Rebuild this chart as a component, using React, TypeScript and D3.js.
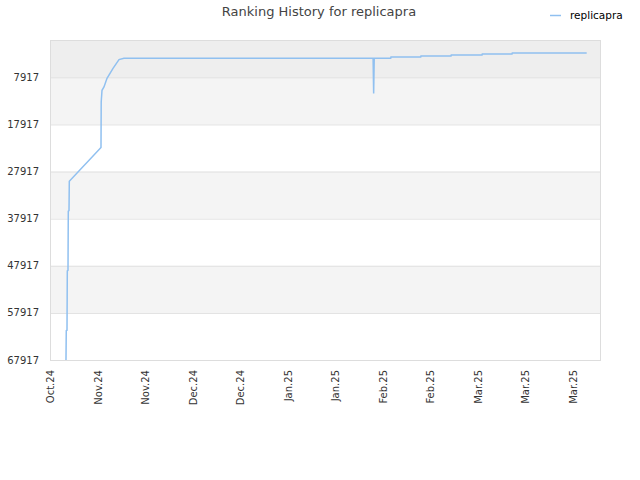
import React, { useEffect, useRef } from 'react';
import * as d3 from 'd3';

const seriesName = 'replicapra';

// [timestamp, rank]
const dates = [
  '2024-10-31T17:00', '2024-10-31T19:00', '2024-11-01T00:10', '2024-11-01T02:20',
  '2024-11-01T07:15', '2024-11-01T09:20', '2024-11-01T14:20', '2024-11-01T16:30',
  '2024-11-11T00:30', '2024-11-11T02:00', '2024-11-11T07:40', '2024-11-11T21:40',
  '2024-11-12T19:00', '2024-11-14T13:30', '2024-11-16T07:45', '2024-11-17T19:00',
  '2025-01-30T04:00', '2025-01-30T08:00', '2025-01-30T12:00', '2025-02-04T08:30',
  '2025-02-04T10:30', '2025-02-13T04:30', '2025-02-13T06:30', '2025-02-22T02:40',
  '2025-02-22T04:40', '2025-03-03T06:00', '2025-03-03T08:00', '2025-03-12T02:00',
  '2025-03-12T04:00', '2025-04-03T02:00',
];
const ranks = [
  67917, 61700, 61600, 49000,
  48900, 36300, 36200, 30000,
  22800, 13150, 10670, 9970,
  8130, 6010, 4160, 3890,
  3890, 11370, 3890, 3890,
  3610, 3610, 3400, 3400,
  3190, 3190, 2980, 2980,
  2765, 2765,
];

const yTicks = [7917, 17917, 27917, 37917, 47917, 57917, 67917];
const xTickDates = [
  '2024-10-27', '2024-11-10', '2024-11-24', '2024-12-08', '2024-12-22', '2025-01-05',
  '2025-01-19', '2025-02-02', '2025-02-16', '2025-03-02', '2025-03-16', '2025-03-30',
];
const xDomain = ['2024-10-27', '2025-04-07'];

const W = 640;
const H = 480;
const margin = { top: 40, right: 40, bottom: 120, left: 50 };

const App: React.FC = () => {
  const svgRef = useRef<SVGSVGElement>(null);

  useEffect(() => {
    const svg = d3.select(svgRef.current);
    svg.selectAll('*').remove();

    const x = d3.scaleTime()
      .domain(xDomain.map(d => new Date(d + 'T00:00')))
      .range([margin.left, W - margin.right]);
    const y = d3.scaleLinear()
      .domain([1, 67917])
      .range([margin.top, H - margin.bottom]);

    const font = 'DejaVu Sans, sans-serif';

    // bands between gridlines
    const edges = [1, ...yTicks];
    const bandFill = ['#eeeeee', '#f4f4f4', '#ffffff', '#f4f4f4', '#ffffff', '#f4f4f4', '#ffffff'];
    svg.append('g')
      .selectAll('rect')
      .data(edges.slice(0, -1))
      .join('rect')
      .attr('x', margin.left)
      .attr('width', W - margin.left - margin.right)
      .attr('y', d => y(d))
      .attr('height', (d, i) => y(edges[i + 1]) - y(d))
      .attr('fill', (_, i) => bandFill[i]);

    svg.append('g')
      .selectAll('line')
      .data(yTicks)
      .join('line')
      .attr('x1', margin.left)
      .attr('x2', W - margin.right)
      .attr('y1', d => y(d) + 0.5)
      .attr('y2', d => y(d) + 0.5)
      .attr('stroke', '#e0e0e0');

    svg.append('rect')
      .attr('x', margin.left + 0.5)
      .attr('y', margin.top + 0.5)
      .attr('width', W - margin.left - margin.right)
      .attr('height', H - margin.top - margin.bottom)
      .attr('fill', 'none')
      .attr('stroke', '#dddddd');

    // y labels
    svg.append('g')
      .selectAll('text')
      .data(yTicks)
      .join('text')
      .attr('x', 39)
      .attr('y', d => y(d))
      .attr('dy', '0.35em')
      .attr('text-anchor', 'end')
      .attr('font-family', font)
      .attr('font-size', 10)
      .attr('fill', '#333')
      .text(d => d);

    // x labels
    const fmt = d3.timeFormat('%b.%y');
    svg.append('g')
      .selectAll('text')
      .data(xTickDates.map(d => new Date(d + 'T00:00')))
      .join('text')
      .attr('transform', d => `translate(${x(d) + 4},370) rotate(-90)`)
      .attr('text-anchor', 'end')
      .attr('font-family', font)
      .attr('font-size', 10)
      .attr('fill', '#333')
      .text(d => fmt(d));

    const pts = dates.map((d, i) => [new Date(d), ranks[i]] as [Date, number]);
    const line = d3.line<[Date, number]>()
      .x(d => x(d[0]))
      .y(d => y(d[1]));
    svg.append('path')
      .datum(pts)
      .attr('d', line)
      .attr('fill', 'none')
      .attr('stroke', '#90c0f0')
      .attr('stroke-width', 1.5);

    svg.append('text')
      .attr('x', 319)
      .attr('y', 16)
      .attr('text-anchor', 'middle')
      .attr('font-family', font)
      .attr('font-size', 13)
      .attr('fill', '#444')
      .text(`Ranking History for ${seriesName}`);

    svg.append('line')
      .attr('x1', 550).attr('x2', 561)
      .attr('y1', 15.5).attr('y2', 15.5)
      .attr('stroke', '#90c0f0')
      .attr('stroke-width', 1.5);
    svg.append('text')
      .attr('x', 570)
      .attr('y', 15)
      .attr('dy', '0.35em')
      .attr('font-family', font)
      .attr('font-size', 10.5)
      .attr('fill', '#000')
      .text(seriesName);
  }, []);

  return (
    <svg ref={svgRef} width={W} height={H} style={{ position: 'absolute', left: 0, top: 0 }} />
  );
};

export default App;
